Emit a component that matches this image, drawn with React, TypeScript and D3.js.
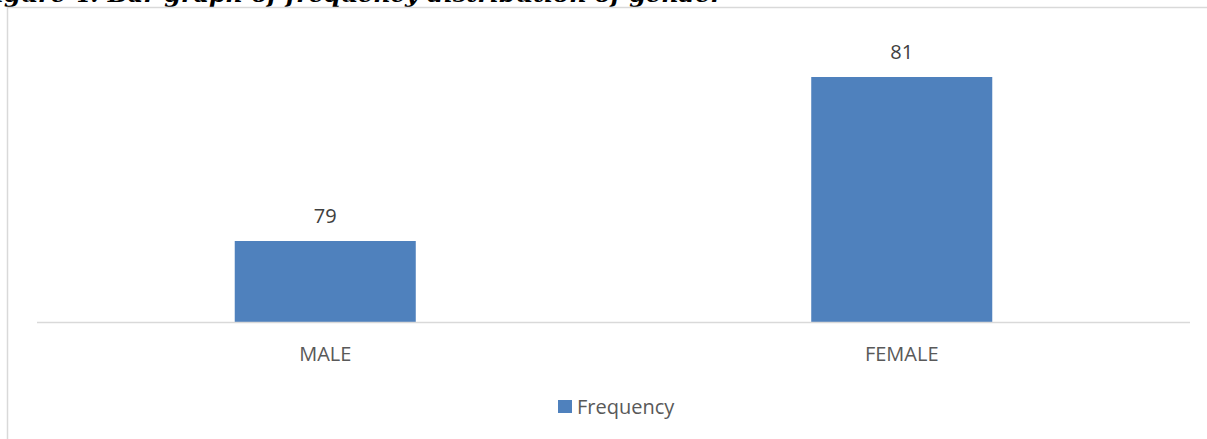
import React from "react";
import * as d3 from "d3";

const categories: string[] = ["MALE", "FEMALE"];
const frequency: number[] = [79, 81];
const seriesName = "Frequency";
const title = "Figure 4: Bar graph of frequency distribution of gender";

const W = 1207;
const H = 439;
const font = "'Open Sans', 'Liberation Sans', sans-serif";

export default function App() {
  const x = d3.scaleBand<string>().domain(categories).range([37, 1190]).paddingInner(0.686).paddingOuter(0.343);
  const y = d3.scaleLinear().domain([78, 81.5]).range([323, 36]);
  const baseY = y(78);

  return (
    <svg
      width={W}
      height={H}
      style={{ position: "absolute", left: 0, top: 0, background: "#fff" }}
    >
      {/* caption above the chart frame, running off the top edge */}
      <text
        x={-22}
        y={1.5}
        fontFamily="'DejaVu Serif', 'Liberation Serif', serif"
        fontWeight="bold"
        fontStyle="italic"
        fontSize={23}
        textLength={745}
        lengthAdjust="spacingAndGlyphs"
        fill="#000"
      >
        {title}
      </text>
      {/* chart frame */}
      <rect x={7.5} y={7.5} width={W + 20} height={H + 20} fill="#fff" stroke="#d9d9d9" strokeWidth={1.5} />

      {frequency.map((v, i) => (
        <g key={categories[i]}>
          <rect
            x={x(categories[i])}
            y={y(v)}
            width={x.bandwidth()}
            height={baseY - y(v)}
            fill="#4f81bd"
          />
          <text
            x={(x(categories[i]) as number) + x.bandwidth() / 2}
            y={y(v) - 18}
            textAnchor="middle"
            fontFamily={font}
            fontSize={20}
            fill="#404040"
          >
            {v}
          </text>
          <text
            x={(x(categories[i]) as number) + x.bandwidth() / 2}
            y={361}
            textAnchor="middle"
            fontFamily={font}
            fontSize={20}
            fill="#595959"
          >
            {categories[i]}
          </text>
        </g>
      ))}

      {/* category axis */}
      <line x1={37} x2={1190} y1={322.5} y2={322.5} stroke="#d9d9d9" strokeWidth={1.5} />

      {/* legend */}
      <rect x={558} y={400} width={14} height={13} fill="#4f81bd" />
      <text x={577} y={414} fontFamily={font} fontSize={20} fill="#595959">
        {seriesName}
      </text>
    </svg>
  );
}
